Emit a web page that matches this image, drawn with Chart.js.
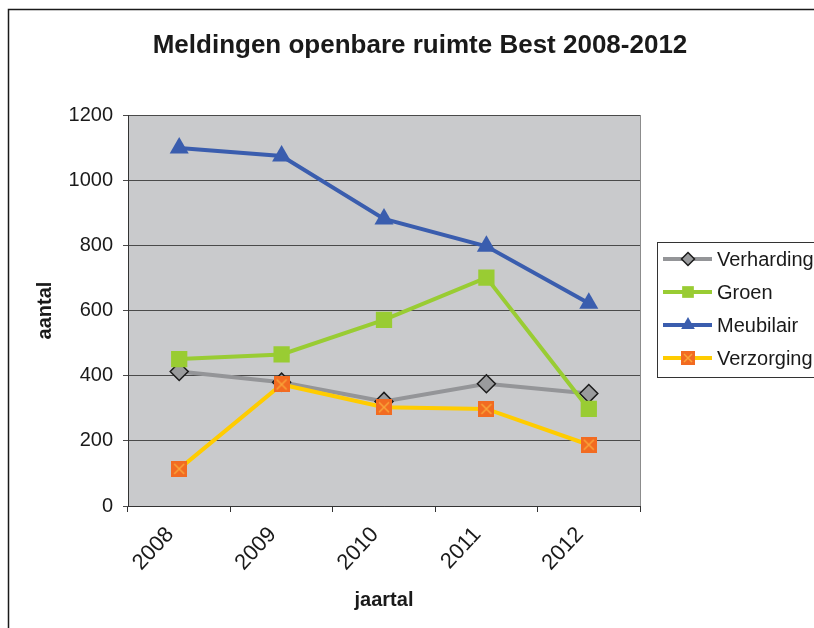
<!DOCTYPE html>
<html>
<head>
<meta charset="utf-8">
<script src="https://cdn.jsdelivr.net/npm/chart.js@4.4.0/dist/chart.umd.min.js"></script>
<style>
html, body { margin: 0; padding: 0; background: #fff; }
#wrap { width: 814px; height: 628px; position: relative; overflow: hidden; }
</style>
</head>
<body>
<div id="wrap"><canvas id="chart" width="814" height="628"></canvas></div>
<script>
// Data
const years = ['2008', '2009', '2010', '2011', '2012'];
const verharding = [413, 380, 321, 375, 345];
const groen = [451, 465, 571, 701, 298];
const meubilair = [1099, 1074, 881, 797, 622];
const verzorging = [114, 373, 303, 298, 188];
const yTicks = [0, 200, 400, 600, 800, 1000, 1200];

const FONT = '"Liberation Sans", Arial, sans-serif';

// Orange square with a light cross, like the Excel marker
function crossMarker(size) {
  const c = document.createElement('canvas');
  c.width = size; c.height = size;
  const g = c.getContext('2d');
  g.fillStyle = '#f26b21';
  g.fillRect(0, 0, size, size);
  g.strokeStyle = '#f9a53a';
  g.lineWidth = 1.5;
  g.beginPath();
  g.moveTo(3, 3); g.lineTo(size - 3, size - 3);
  g.moveTo(size - 3, 3); g.lineTo(3, size - 3);
  g.stroke();
  return c;
}

const series = [
  {label: 'Verharding', data: verharding, line: '#949598', style: 'rectRot', radius: 9, fill: '#9a9b9d', edge: '#1c1c1c', edgeW: 1.5},
  {label: 'Groen', data: groen, line: '#99cc33', style: 'rect', radius: 11.5, fill: '#99cc33', edge: '#99cc33', edgeW: 0},
  {label: 'Meubilair', data: meubilair, line: '#3a5dae', style: 'triangle', radius: 11, fill: '#3a5dae', edge: '#3a5dae', edgeW: 0},
  {label: 'Verzorging', data: verzorging, line: '#ffcc00', style: crossMarker(16), radius: 8, fill: '#f26b21', edge: '#f26b21', edgeW: 0}
];

// small marker drawer for the legend
function drawMarker(ctx, s, x, y, k) {
  ctx.save();
  ctx.fillStyle = s.fill;
  ctx.strokeStyle = s.edge;
  ctx.lineWidth = s.edgeW;
  const r = s.radius * k;
  ctx.beginPath();
  if (s.style === 'rectRot') {
    ctx.moveTo(x, y - r); ctx.lineTo(x + r, y); ctx.lineTo(x, y + r); ctx.lineTo(x - r, y); ctx.closePath();
    ctx.fill(); ctx.stroke();
  } else if (s.style === 'rect') {
    const h = r * Math.SQRT1_2;
    ctx.rect(x - h, y - h, 2 * h, 2 * h); ctx.fill();
  } else if (s.style === 'triangle') {
    ctx.moveTo(x, y - r);
    ctx.lineTo(x + r * 0.866, y + r * 0.5);
    ctx.lineTo(x - r * 0.866, y + r * 0.5);
    ctx.closePath(); ctx.fill();
  } else {
    const img = crossMarker(14);
    ctx.drawImage(img, x - 7, y - 7);
  }
  ctx.restore();
}

const decorPlugin = {
  id: 'decor',
  beforeDraw(chart) {
    const {ctx, chartArea: a} = chart;
    ctx.save();
    ctx.fillStyle = '#ffffff';
    ctx.fillRect(0, 0, chart.width, chart.height);
    // outer frame (only left and top visible)
    ctx.strokeStyle = '#1a1a1a';
    ctx.lineWidth = 1.5;
    ctx.beginPath();
    ctx.moveTo(8.5, chart.height + 5);
    ctx.lineTo(8.5, 9.5);
    ctx.lineTo(chart.width + 5, 9.5);
    ctx.stroke();
    // title
    ctx.fillStyle = '#1a1a1a';
    ctx.font = 'bold 26px ' + FONT;
    ctx.textAlign = 'center';
    ctx.textBaseline = 'middle';
    ctx.fillText('Meldingen openbare ruimte Best 2008-2012', 420, 46);
    // plot area
    ctx.fillStyle = '#c9cacc';
    ctx.fillRect(a.left, a.top, a.right - a.left, a.bottom - a.top);
    ctx.strokeStyle = '#8c8c8c';
    ctx.lineWidth = 1;
    ctx.beginPath();
    ctx.moveTo(a.right + 0.5, a.top);
    ctx.lineTo(a.right + 0.5, a.bottom);
    ctx.stroke();
    ctx.restore();
  },
  afterDraw(chart) {
    const {ctx} = chart;
    ctx.save();
    // legend box
    ctx.fillStyle = '#ffffff';
    ctx.fillRect(657, 242, 200, 135);
    ctx.strokeStyle = '#333333';
    ctx.lineWidth = 1;
    ctx.strokeRect(657.5, 242.5, 200, 135);
    ctx.font = '20px ' + FONT;
    ctx.textBaseline = 'middle';
    ctx.textAlign = 'left';
    series.forEach((s, i) => {
      const y = 259 + i * 33;
      ctx.strokeStyle = s.line;
      ctx.lineWidth = 4;
      ctx.beginPath();
      ctx.moveTo(663, y); ctx.lineTo(712, y);
      ctx.stroke();
      drawMarker(ctx, s, 688, y, 0.72);
      ctx.fillStyle = '#1a1a1a';
      ctx.fillText(s.label, 717, y + 1);
    });
    ctx.restore();
  }
};

new Chart(document.getElementById('chart'), {
  type: 'line',
  data: {
    labels: years,
    datasets: series.map((s, i) => ({
      label: s.label,
      data: s.data,
      borderColor: s.line,
      borderWidth: 4,
      tension: 0,
      fill: false,
      pointStyle: s.style,
      pointRadius: s.radius,
      pointBackgroundColor: s.fill,
      pointBorderColor: s.edge,
      pointBorderWidth: s.edgeW,
      order: series.length - i
    }))
  },
  options: {
    responsive: false,
    animation: false,
    events: [],
    layout: {padding: {top: 115, right: 174, left: 0, bottom: 0}},
    plugins: {
      legend: {display: false},
      title: {display: false},
      tooltip: {enabled: false}
    },
    scales: {
      x: {
        offset: true,
        grid: {offset: true, drawOnChartArea: false, drawTicks: true, tickLength: 6, color: '#333333'},
        border: {color: '#333333', width: 1},
        ticks: {
          color: '#1a1a1a',
          font: {family: FONT, size: 22},
          maxRotation: 47,
          minRotation: 47,
          padding: 10,
          labelOffset: -9
        },
        title: {
          display: true,
          text: 'jaartal',
          color: '#1a1a1a',
          font: {family: FONT, size: 20, weight: 'bold'},
          padding: {top: 0, bottom: 16}
        },
        afterFit(scale) { scale.height = 122; }
      },
      y: {
        min: yTicks[0],
        max: yTicks[yTicks.length - 1],
        afterBuildTicks(scale) { scale.ticks = yTicks.map(v => ({value: v})); },
        grid: {color: '#4a4a4a', lineWidth: 1, tickLength: 5, drawTicks: true},
        border: {color: '#333333', width: 1},
        ticks: {
          color: '#1a1a1a',
          font: {family: FONT, size: 20},
          padding: 10,
          callback: (v) => String(v)
        },
        title: {
          display: true,
          text: 'aantal',
          color: '#1a1a1a',
          font: {family: FONT, size: 20, weight: 'bold'},
          padding: {top: 33, bottom: 0}
        },
        afterFit(scale) { scale.width = 128; }
      }
    }
  },
  plugins: [decorPlugin]
});
</script>
</body>
</html>
